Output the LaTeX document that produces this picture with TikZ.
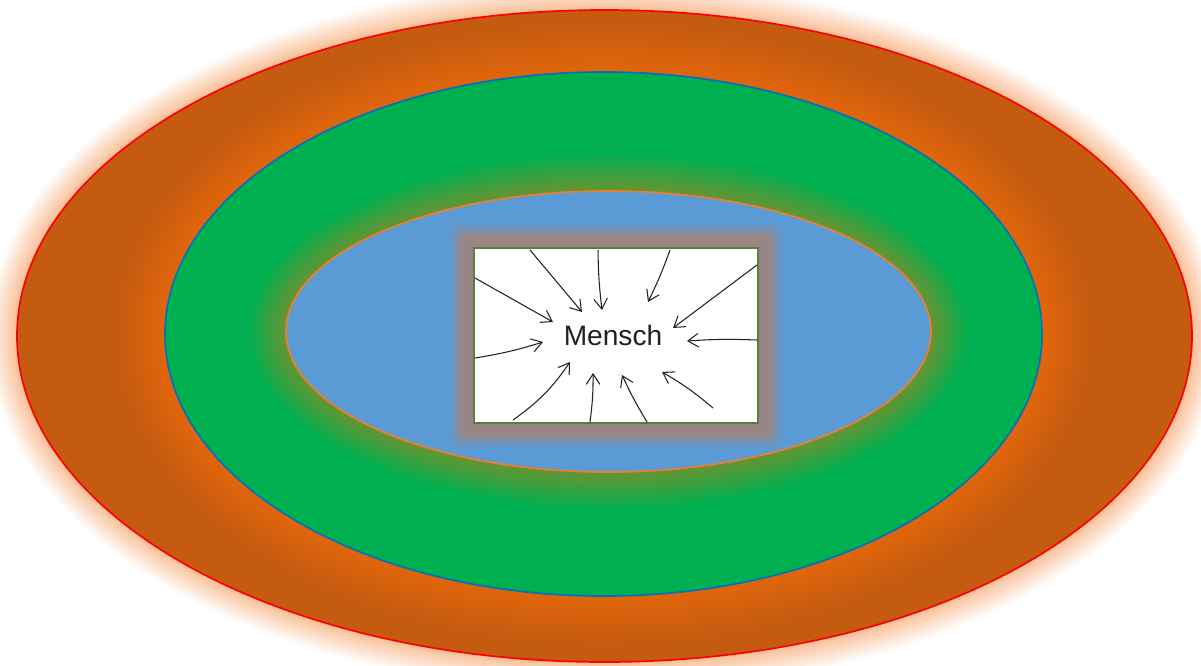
\documentclass[tikz,border=0pt]{standalone}
\usepackage{fontspec}
\newfontfamily\handfont{Liberation Sans}
\usetikzlibrary{arrows.meta}
\definecolor{earth}    {HTML}{C55A11}
\definecolor{rim}      {HTML}{FF0000}
\definecolor{peach}    {HTML}{F9BE94}
\definecolor{ember}    {HTML}{E2660A}
\definecolor{nature}   {HTML}{00B050}
\definecolor{natrim}   {HTML}{0070C0}
\definecolor{olive}    {HTML}{6A9332}
\definecolor{society}  {HTML}{5B9BD5}
\definecolor{socrim}   {HTML}{ED7D31}
\definecolor{haze}     {HTML}{9A8585}
\definecolor{boxrim}   {HTML}{548235}
\definecolor{pen}      {HTML}{222222}

\begin{document}
\begin{tikzpicture}[
    x=0.025cm, y=-0.025cm,
    arr/.style={-{Straight Barb[length=2.6mm, width=3.4mm]}, line width=0.75pt, color=pen},
    word/.style={font=\handfont\fontsize{20}{24}\selectfont, text=pen, inner sep=0pt},
  ]
    \useasboundingbox (0,0) rectangle (1201,665);

    % outer ring
    \foreach \k in {30,29,...,1} {
      \pgfmathtruncatemacro\p{100*(31-\k)/31}
      \fill[peach!\p!white] (604.5,336) ellipse [x radius=587.5+\k, y radius=326+\k];
    }
    \filldraw[fill=earth, draw=rim, line width=1.2pt] (604.5,336) ellipse [x radius=587.5, y radius=326];

    % middle ring
    \foreach \k in {48,47,...,1} {
      \pgfmathtruncatemacro\p{100*(49-\k)/49}
      \fill[ember!\p!earth] (603.5,334) ellipse [x radius=438.5+\k, y radius=262+\k];
    }
    \filldraw[fill=nature, draw=natrim, line width=1.2pt] (603.5,334) ellipse [x radius=438.5, y radius=262];

    % inner ring
    \foreach \k in {38,37,...,1} {
      \pgfmathtruncatemacro\p{100*(39-\k)/39}
      \fill[olive!\p!nature] (608.5,331.5) ellipse [x radius=322.5+\k, y radius=140.5+\k];
    }
    \filldraw[fill=society, draw=socrim, line width=1.2pt] (608.5,331.5) ellipse [x radius=322.5, y radius=140.5];

    % box
    \foreach \k in {24,23,...,1} {
      \pgfmathtruncatemacro\p{min(100,100*(25-\k)/13)}
      \fill[haze!\p!society, rounded corners=2mm] (474-\k,248-\k) rectangle (758+\k,423+\k);
    }
    \filldraw[fill=white, draw=boxrim, line width=1.3pt] (474,248) rectangle (758,423);
    \node[word, anchor=base] (mensch) at (613,345) {Mensch};

    % arrows
    \foreach \sx/\sy/\ex/\ey/\b [count=\i] in {
        530/250/582/312/0, 598/250/602/310/-3, 670/250/648/302/3,
        757/265/673/328/0, 757/340/687/341/-3, 713/408/662/372/-5,
        647/422/622/375/3, 590/422/593/373/-4, 513/420/570/362/-10,
        475/358/543/342/-4, 475/278/553/322/0} {
      \coordinate (s\i) at (\sx,\sy);
      \coordinate (e\i) at (\ex,\ey);
      \draw[arr] (s\i) to[bend left=\b] (e\i);
    }
\end{tikzpicture}
\end{document}
